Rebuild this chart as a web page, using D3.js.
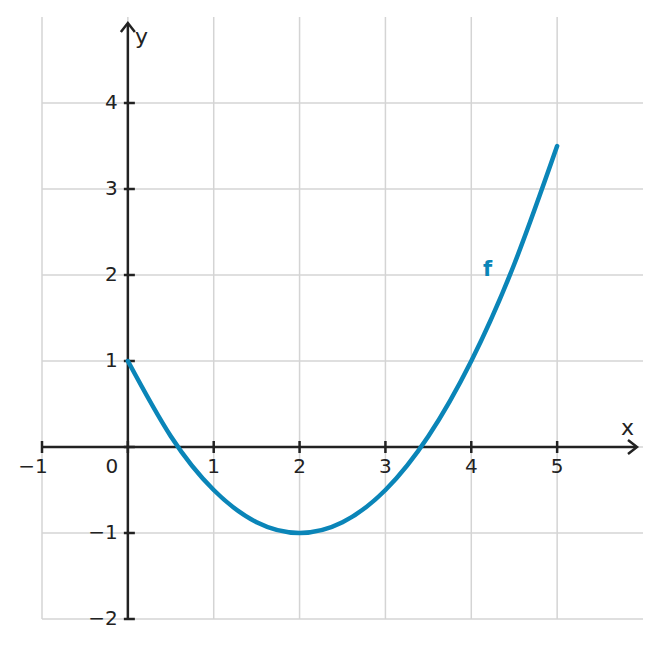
<!DOCTYPE html>
<html>
<head>
<meta charset="utf-8">
<script src="https://cdn.jsdelivr.net/npm/d3@7"></script>
<style>
  body { margin: 0; background: #fff; }
  text { font-family: "DejaVu Sans", sans-serif; fill: #222; }
</style>
</head>
<body>
<svg id="chart" width="661" height="648"></svg>
<script>
// curve samples
const xs = [0, 0.5, 1, 1.5, 2, 2.5, 3, 3.5, 4, 4.5, 5];
const ys = [1, 0.125, -0.5, -0.875, -1, -0.875, -0.5, 0.125, 1, 2.125, 3.5];
const xTicks = [-1, 1, 2, 3, 4, 5];
const yTicks = [-2, -1, 1, 2, 3, 4];
const gridX = [-1, 0, 1, 2, 3, 4, 5];
const gridY = [-2, -1, 0, 1, 2, 3, 4];

const svg = d3.select('#chart');
const x = d3.scaleLinear().domain([-1, 6]).range([42, 643]);
const y = d3.scaleLinear().domain([-2, 5]).range([619, 17]);
const ink = '#222';

// grid
svg.append('g').selectAll('line')
  .data(gridX).enter().append('line')
  .attr('x1', d => x(d)).attr('x2', d => x(d))
  .attr('y1', y(-2)).attr('y2', y(5))
  .attr('stroke', '#d4d4d4').attr('stroke-width', 1.5);
svg.append('g').selectAll('line')
  .data(gridY).enter().append('line')
  .attr('x1', x(-1)).attr('x2', x(6))
  .attr('y1', d => y(d)).attr('y2', d => y(d))
  .attr('stroke', '#d4d4d4').attr('stroke-width', 1.5);

// axes
svg.append('line')
  .attr('x1', x(-1)).attr('x2', 636)
  .attr('y1', y(0)).attr('y2', y(0))
  .attr('stroke', ink).attr('stroke-width', 2.5);
svg.append('line')
  .attr('x1', x(0)).attr('x2', x(0))
  .attr('y1', y(-2)).attr('y2', 24)
  .attr('stroke', ink).attr('stroke-width', 2.5);
// arrow heads
svg.append('path')
  .attr('d', `M${628},${y(0) - 7}L${637},${y(0)}L${628},${y(0) + 7}`)
  .attr('fill', 'none').attr('stroke', ink).attr('stroke-width', 2.5);
svg.append('path')
  .attr('d', `M${x(0) - 7},${32}L${x(0)},${23}L${x(0) + 7},${32}`)
  .attr('fill', 'none').attr('stroke', ink).attr('stroke-width', 2.5);

// ticks
svg.append('g').selectAll('line')
  .data([-1, 0, 1, 2, 3, 4, 5]).enter().append('line')
  .attr('x1', d => x(d)).attr('x2', d => x(d))
  .attr('y1', y(0) - 6).attr('y2', y(0) + 6)
  .attr('stroke', ink).attr('stroke-width', 2.5);
svg.append('g').selectAll('line')
  .data([-2, -1, 0, 1, 2, 3, 4]).enter().append('line')
  .attr('x1', x(0) - 4).attr('x2', x(0) + 7)
  .attr('y1', d => y(d)).attr('y2', d => y(d))
  .attr('stroke', ink).attr('stroke-width', 2.5);

// tick labels
svg.append('g').selectAll('text')
  .data(xTicks).enter().append('text')
  .attr('x', d => x(d) + (d < 0 ? -9 : 0)).attr('y', y(0) + 26)
  .attr('text-anchor', 'middle').attr('font-size', 20)
  .text(d => d < 0 ? '\u2212' + Math.abs(d) : d);
svg.append('text')
  .attr('x', x(0) - 16).attr('y', y(0) + 26)
  .attr('text-anchor', 'middle').attr('font-size', 20).text('0');
svg.append('g').selectAll('text')
  .data(yTicks).enter().append('text')
  .attr('x', x(0) - 10).attr('y', d => y(d) + 6)
  .attr('text-anchor', 'end').attr('font-size', 20)
  .text(d => d < 0 ? '\u2212' + Math.abs(d) : d);

// axis names
svg.append('text').attr('x', 135).attr('y', 44).attr('font-size', 22).text('y');
svg.append('text').attr('x', 621).attr('y', 435).attr('font-size', 22).text('x');

// curve
const line = d3.line()
  .x(d => x(d[0])).y(d => y(d[1]))
  .curve(d3.curveNatural);
svg.append('path')
  .datum(xs.map((v, i) => [v, ys[i]]))
  .attr('d', line)
  .attr('fill', 'none').attr('stroke', '#0a85b8').attr('stroke-width', 4.5)
  .attr('stroke-linecap', 'round');

svg.append('text').attr('x', 483).attr('y', 276)
  .attr('font-size', 21).attr('font-weight', 'bold')
  .style('fill', '#0a85b8').text('f');
</script>
</body>
</html>
